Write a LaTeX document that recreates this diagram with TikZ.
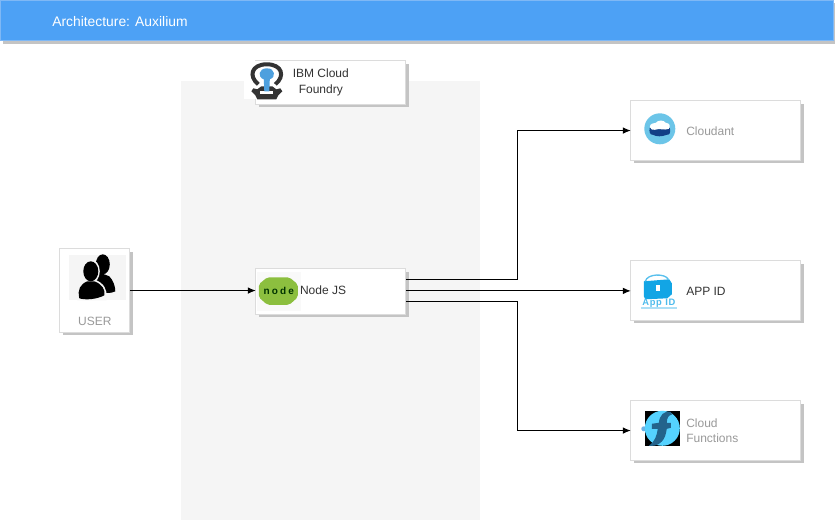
\documentclass[tikz,border=0pt]{standalone}
\usepackage{fontspec}
\setmainfont{Liberation Sans}
\usetikzlibrary{arrows.meta}
\definecolor{hdr}{HTML}{4DA1F5}
\definecolor{hdrline}{HTML}{7FB8F5}
\definecolor{edge}{HTML}{DCDCDC}
\definecolor{shadowc}{HTML}{C4C4C4}
\definecolor{panel}{HTML}{F5F5F5}
\definecolor{greytxt}{HTML}{999999}
\definecolor{darktxt}{HTML}{333333}
\definecolor{nodegreen}{HTML}{8CBF3F}
\definecolor{cloudblue}{HTML}{6CC5E8}
\definecolor{navy}{HTML}{123F86}
\definecolor{appblue}{HTML}{12A5E5}
\definecolor{fcyan}{HTML}{55D2FF}
\definecolor{fdark}{HTML}{23638C}
\definecolor{cfblue}{HTML}{2F8FD8}
\tikzset{
  x=0.75pt,y=-0.75pt,
  card/.style={draw=edge,line width=0.75pt,fill=white,rectangle,inner sep=0pt,outer sep=0pt},
  cardshadow/.style={fill=shadowc,draw=none},
  lbl/.style={font=\fontsize{9}{10.5}\selectfont,inner sep=0pt,align=center},
  lblgrey/.style={lbl,text=greytxt},
  lbldark/.style={lbl,text=darktxt},
  conn/.style={draw=black,line width=0.75pt,-{Latex[length=6pt,width=5pt]}},
}
\newcommand{\cardbox}[5]{%
  \fill[cardshadow] (#2+3,#3+3) rectangle (#4+3,#5+3);
  \node[card,minimum width={(#4-#2)*0.75pt},minimum height={(#5-#3)*0.75pt}] (#1) at ({(#2+#4)/2},{(#3+#5)/2}) {};
}
\begin{document}
\begin{tikzpicture}
\useasboundingbox (0,0) rectangle (835,521);
\fill[white] (0,0) rectangle (835,521);
\begin{scope}[shift={(-0.7,-0.7)}]
% header
\fill[cardshadow] (3.5,4) rectangle (836,44.5);
\fill[hdr,draw=hdrline,line width=0.75pt] (1.5,1.5) rectangle (834,41);
\node[lbl,text=white,anchor=west,font=\fontsize{10.4}{12}\selectfont] (title) at (52.7,22) {Architecture: Auxilium};
% panel
\fill[panel] (181.5,81.5) rectangle (481,521);
% IBM card
\cardbox{ibmbox}{256.5}{61.5}{406.5}{105}
\fill[white] (245,62) rectangle (291,100);
\node[lbldark] (ibm) at (321.5,83.2) {IBM Cloud\\[1pt]Foundry};
% IBM icon
\draw[black!80,line width=3pt] (259,85) .. controls (249,77) and (252,65) .. (267.5,65) .. controls (283,65) and (286,77) .. (276,85);
\fill[black!80] (252,92) -- (254,89) -- (258,90) -- (262,87) -- (273,87) -- (277,90) -- (281,89) -- (283,92) -- (279,96) -- (277,100) -- (258,100) -- (256,96) -- cycle;
\fill[white] (261,92) rectangle (274,95);
\fill[cfblue!85!white] (267.5,69) .. controls (259,69) and (258,78) .. (264.5,80) -- (265,92) -- (270,92) -- (270.5,80) .. controls (277,78) and (276,69) .. (267.5,69) -- cycle;
% user card
\cardbox{userbox}{60.5}{249.5}{130.5}{333}
\fill[panel] (69.5,255.5) rectangle (126.5,300.5);
\fill[black] (103.5,265) ellipse (7 and 10);
\fill[black] (97,272) -- (110,277) .. controls (114,281) and (116,287) .. (116,292) .. controls (112,294) and (108,294) .. (104,293) -- (96,282) -- cycle;
\fill[panel] (91.5,272) ellipse (9 and 12);
\fill[panel] (78,299) .. controls (76,289) and (80,283) .. (87,280) -- (95,280) .. controls (105,284) and (108,290) .. (107,298) -- (107,301) -- (78,301) -- cycle;
\fill[black] (91.5,272) ellipse (7.5 and 10);
\fill[black] (80,299) .. controls (78,290) and (81,285) .. (88,282) -- (95,282) .. controls (103,285) and (106,290) .. (105,296) .. controls (98,300) and (86,301) .. (80,299) -- cycle;
\node[lblgrey] (user) at (95.5,322) {USER};
% Node JS card
\cardbox{nodebox}{256.5}{269.5}{406.5}{315}
\fill[panel!60!white] (257.5,272.5) rectangle (301.5,311.5);
\fill[nodegreen,rounded corners=1.5pt] (268,278) -- (290,278) -- (298.5,285) -- (298.5,298) -- (290,305.5) -- (268,305.5) -- (259.5,298) -- (259.5,285) -- cycle;
\node[font=\fontsize{7.5}{8}\bfseries\selectfont,text=black!80!green,inner sep=0pt] (nodeword) at (279.5,291.5) {\addfontfeature{LetterSpace=22}node};
\node[lbldark,anchor=west] (nodejs) at (300.5,291) {Node JS};
% Cloudant
\cardbox{cloudbox}{631.5}{101.5}{801.5}{161}
\fill[cloudblue] (660.5,129.5) circle (15.5);
\fill[navy] (650.5,128.5) -- (670.5,128.5) .. controls (671.5,133.5) and (670.5,135.5) .. (667.5,135.5) .. controls (662.5,137.5) and (657.5,137.5) .. (653.5,135.5) .. controls (650.5,135.5) and (649.5,132.5) .. (650.5,128.5) -- cycle;
\fill[white] (650.5,127.5) .. controls (650.5,124.5) and (654.5,123.5) .. (656.5,123.5) .. controls (658.5,120.5) and (664.5,120.5) .. (666.5,123.5) .. controls (670.5,123.5) and (671.5,127.5) .. (669.5,129.5) .. controls (664.5,131.5) and (660.5,128.5) .. (655.5,130.5) .. controls (653.5,131.5) and (650.5,129.5) .. (650.5,127.5) -- cycle;
\node[lblgrey,anchor=west] (cloudant) at (686.7,131.7) {Cloudant};
% App ID
\cardbox{appbox}{631.5}{261.5}{801.5}{321}
\fill[appblue] (644.5,282) -- (670,280) -- (672.5,284) -- (672.5,295) -- (668,299) -- (646,300) -- (644.5,297) -- cycle;
\draw[appblue!70!white,line width=1pt] (646,282) .. controls (648,274) and (666,274) .. (669,280);
\fill[white] (656.5,286) rectangle (660.5,292);
\node[font=\fontsize{7}{7}\bfseries\selectfont,text=appblue!75!white,inner sep=0pt] (appword) at (659.5,304) {\addfontfeature{LetterSpace=8}App ID};
\fill[appblue!35!white] (641.5,308) rectangle (677.5,310);
\node[lbldark,anchor=west] (appid) at (686.7,291.7) {APP ID};
% Cloud Functions
\cardbox{funcbox}{631.5}{401.5}{801.5}{461}
\fill[black] (645.5,411.5) rectangle (680.5,446.5);
\fill[cfblue!70!white] (644.5,429.5) circle (2.5);
\fill[fcyan] (663,429) circle (17.5);
\fill[fdark] (671.5,412.5) .. controls (664.5,411.5) and (660.5,415.5) .. (659.5,423.5) -- (652.5,424.5) -- (652.5,429.5) -- (658.5,429.5) .. controls (657.5,436.5) and (655.5,442.5) .. (649.5,446.5) .. controls (658.5,447.5) and (664.5,442.5) .. (666.5,434.5) -- (667.5,429.5) -- (671.5,428.5) -- (671.5,423.5) -- (667.5,423.5) .. controls (667.5,418.5) and (669.5,415.5) .. (672.5,415.5) -- cycle;
\node[lblgrey,anchor=west,align=left] (cf) at (686.7,431.2) {Cloud\\[0.6pt]Functions};
% connectors
\coordinate (n1) at ([yshift=9.4pt]nodebox.east);
\coordinate (n2) at ([yshift=0.5pt]nodebox.east);
\coordinate (n3) at ([yshift=-7.1pt]nodebox.east);
\draw[conn] (userbox.east) -- (userbox.east -| nodebox.west);
\draw[conn] (n1) -- ++(112,0) |- (cloudbox.west);
\draw[conn] (n2) -- (n2 -| appbox.west);
\draw[conn] (n3) -- ++(112,0) |- (funcbox.west);
\end{scope}
\end{tikzpicture}
\end{document}
